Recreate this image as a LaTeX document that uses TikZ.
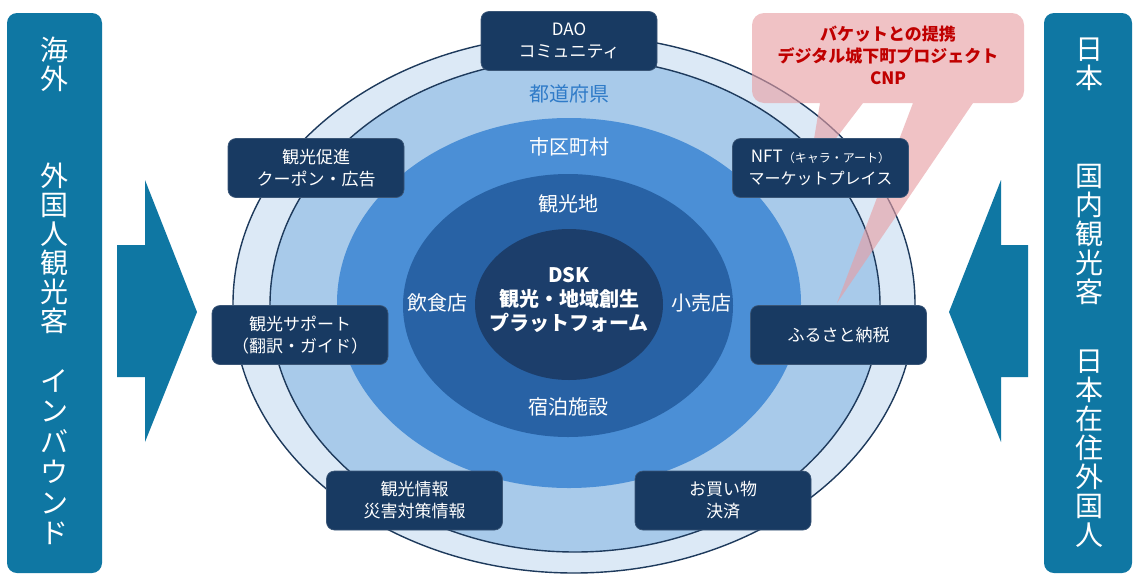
\documentclass[tikz,border=0pt]{standalone}
\usepackage{fontspec}
\setmainfont{Noto Sans CJK JP}
\definecolor{ringA}{HTML}{DCE9F6}
\definecolor{ringB}{HTML}{A8CAEA}
\definecolor{ringC}{HTML}{4B8FD6}
\definecolor{ringD}{HTML}{2862A5}
\definecolor{ringE}{HTML}{1C3E6B}
\definecolor{ringline}{HTML}{1E3A5C}
\definecolor{navy}{HTML}{183A62}
\definecolor{navyline}{HTML}{3A5677}
\definecolor{sideblue}{HTML}{0F77A3}
\definecolor{prefblue}{HTML}{2F7BC8}
\definecolor{callpink}{HTML}{E79EA3}
\definecolor{callred}{HTML}{C00000}
\tikzset{
  infobox/.style={draw=navyline, line width=0.7pt, fill=navy, rounded corners=8pt,
    minimum width=176pt, minimum height=59pt, text=white, align=center,
    font=\fontsize{17}{22}\selectfont, inner sep=0pt},
  ringlabel/.style={text=white, font=\fontsize{20}{24}\selectfont, inner sep=0pt},
  sidebox/.style={fill=sideblue, rounded corners=10pt, minimum height=560pt, inner sep=0pt},
  sidetext/.style={text=white, align=center, font=\fontsize{28}{29}\selectfont, inner sep=0pt},
  ringedge/.style={draw=ringline, line width=1.4pt}
}
\begin{document}
\begin{tikzpicture}[x=1pt,y=-1pt]
\useasboundingbox (0,0) rectangle (1133,574);
\fill[white] (0,0) rectangle (1133,574);

% rings
\fill[ringA] (574,304) ellipse [x radius=341pt, y radius=269pt];
\draw[ringedge] (574,304) ellipse [x radius=341pt, y radius=269pt];
\fill[ringB] (575,305) ellipse [x radius=305pt, y radius=247pt];
\draw[ringedge] (575,305) ellipse [x radius=305pt, y radius=247pt];
\fill[ringC] (569,303) ellipse [x radius=232pt, y radius=185pt];
\fill[ringD] (568,305.5) ellipse [x radius=165pt, y radius=131.5pt];
\fill[ringE] (569,304.5) ellipse [x radius=94pt, y radius=75.5pt];

% ring labels
\node[ringlabel, text=prefblue] (pref) at (569,94) {都道府県};
\node[ringlabel] (city) at (569,147) {市区町村};
\node[ringlabel] (spot) at (568,204) {観光地};
\node[ringlabel] (food) at (437,303) {飲食店};
\node[ringlabel] (shop) at (701,303) {小売店};
\node[ringlabel] (stay) at (568,407) {宿泊施設};
\node[text=white, align=center, font=\bfseries\fontsize{20}{24}\selectfont, inner sep=0pt] (core) at (569,300) {DSK\\観光・地域創生\\プラットフォーム};

% callout (semi-transparent)
\fill[callpink, fill opacity=0.62]
  [rounded corners=12pt] (752,60) -- (752,13) -- (1024,13) -- (1024,103)
  [sharp corners] -- (973,103) -- (837,303) -- (913,103) -- (863,103) -- (808,175) -- (820,103)
  [rounded corners=12pt] -- (752,103) -- cycle;
\node[text=callred, align=center, font=\bfseries\fontsize{17}{22}\selectfont, inner sep=0pt] (calltext) at (888,55) {バケットとの提携\\デジタル城下町プロジェクト\\CNP};

% boxes
\node[infobox] (dao) at (569,41) {DAO\\コミュニティ};
\node[infobox] (promo) at (316,168) {観光促進\\クーポン・広告};
\node[infobox] (nft) at (820.5,168) {NFT{\fontsize{12}{14}\selectfont （キャラ・アート）}\\{\fontsize{16}{20}\selectfont マーケットプレイス}};
\node[infobox] (support) at (300,335) {観光サポート\\（翻訳・ガイド）};
\node[infobox] (furusato) at (838.5,335) {ふるさと納税};
\node[infobox] (info) at (414.5,500.5) {観光情報\\災害対策情報};
\node[infobox] (pay) at (723,500.5) {お買い物\\決済};

% side panels
\node[sidebox, minimum width=95pt] (leftpanel) at (54.5,293) {};
\node[sidebox, minimum width=88pt] (rightpanel) at (1088,293) {};
\node[sidetext] (l1) at (54,64) {海\\外};
\node[sidetext] (l2) at (54,248) {外\\国\\人\\観\\光\\客};
\node[sidetext, font=\fontsize{28}{30.5}\selectfont] (l3) at (54,457) {イ\\ン\\バ\\ウ\\ン\\ド};
\node[sidetext] (r1) at (1089,64) {日\\本};
\node[sidetext] (r2) at (1089,234) {国\\内\\観\\光\\客};
\node[sidetext] (r3) at (1089,449) {日\\本\\在\\住\\外\\国\\人};

% arrows
\fill[sideblue] (117,245) -- (145,245) -- (145,180) -- (197,312) -- (145,442) -- (145,377) -- (117,377) -- cycle;
\fill[sideblue] (1028,245) -- (1001,245) -- (1001,180) -- (949,312) -- (1001,442) -- (1001,377) -- (1028,377) -- cycle;
\end{tikzpicture}
\end{document}
